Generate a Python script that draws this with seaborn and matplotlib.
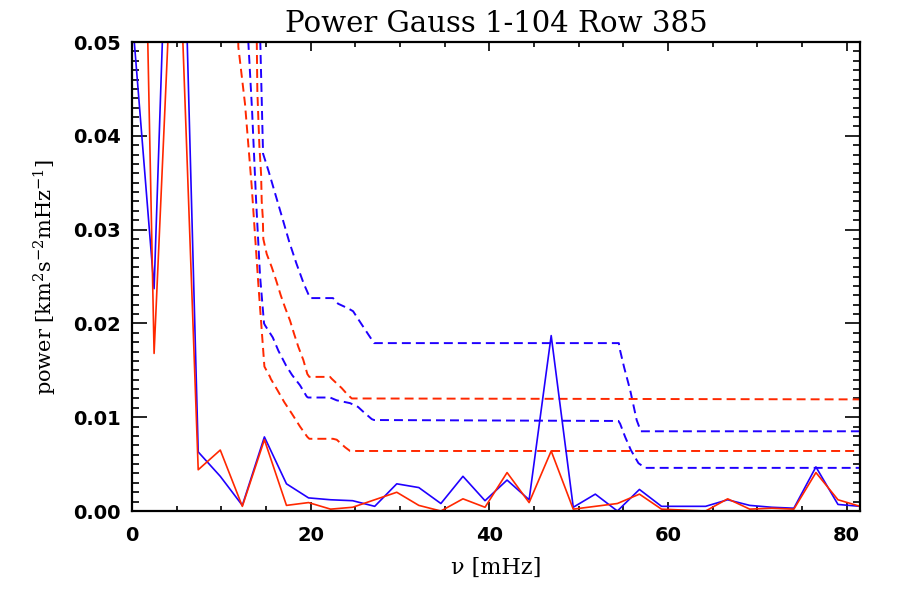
import numpy as np
import pandas as pd
import matplotlib
matplotlib.use("Agg")
import matplotlib.pyplot as plt
import seaborn as sns
from matplotlib.ticker import MultipleLocator, FormatStrFormatter

# Frequenzen der Spektren (mHz)
freq = [0.00, 2.47, 4.94, 7.41, 9.88, 12.35, 14.82, 17.29, 19.76, 22.23,
        24.70, 27.17, 29.64, 32.11, 34.58, 37.05, 39.52, 41.99, 44.46, 46.93,
        49.40, 51.87, 54.34, 56.81, 59.28, 61.75, 64.22, 66.69, 69.16, 71.63,
        74.10, 76.57, 79.04, 81.51]

# Leistung, blau und rot
power_blue = [0.0530, 0.0237, 0.0940, 0.0063, 0.0037, 0.0006, 0.0079, 0.0029, 0.0014, 0.0012,
              0.0011, 0.0005, 0.0029, 0.0025, 0.0008, 0.0037, 0.0011, 0.0033, 0.0012, 0.0187,
              0.0004, 0.0018, 0.0000, 0.0023, 0.0005, 0.0005, 0.0005, 0.0012, 0.0006, 0.0004,
              0.0003, 0.0047, 0.0007, 0.0005]
power_red = [0.1330, 0.0168, 0.0700, 0.0044, 0.0065, 0.0005, 0.0076, 0.0006, 0.0009, 0.0002,
             0.0004, 0.0012, 0.0020, 0.0006, 0.0000, 0.0013, 0.0004, 0.0041, 0.0009, 0.0064,
             0.0002, 0.0005, 0.0008, 0.0018, 0.0002, 0.0001, 0.0000, 0.0013, 0.0002, 0.0003,
             0.0002, 0.0041, 0.0012, 0.0005]

# Konfidenzniveaus (gestrichelt)
conf_blue_hi_f = [14.10, 14.67, 15.30, 16.10, 16.90, 17.60, 18.40, 19.20, 19.93, 22.50,
                  23.07, 24.20, 24.75, 25.50, 26.40, 27.10, 54.50, 54.65, 55.10, 55.77,
                  56.50, 56.97, 81.51]
conf_blue_hi = [0.0600, 0.0381, 0.0362, 0.0336, 0.0310, 0.0287, 0.0264, 0.0243, 0.0227, 0.0227,
                0.0221, 0.0216, 0.0213, 0.0202, 0.0189, 0.0179, 0.0179, 0.0171, 0.0153, 0.0129,
                0.0097, 0.0085, 0.0085]

conf_blue_lo_f = [12.45, 13.02, 13.44, 13.89, 14.33, 14.78, 14.89, 15.76, 16.38, 17.25,
                  17.92, 18.81, 19.56, 19.71, 22.17, 22.92, 24.41, 25.30, 25.87, 26.84,
                  27.10, 54.46, 54.65, 55.21, 55.85, 56.70, 57.45, 81.51]
conf_blue_lo = [0.0600, 0.0500, 0.0427, 0.0331, 0.0251, 0.0200, 0.0198, 0.0185, 0.0171, 0.0155,
                0.0145, 0.0134, 0.0122, 0.0121, 0.0121, 0.0118, 0.0115, 0.0111, 0.0106, 0.0098,
                0.0097, 0.0096, 0.0093, 0.0079, 0.0065, 0.0051, 0.0046, 0.0046]

conf_red_hi_f = [13.85, 14.03, 14.14, 14.26, 14.45, 14.52, 14.64, 14.70, 15.08, 15.64,
                 16.13, 16.65, 17.13, 17.69, 18.14, 18.62, 19.18, 19.63, 19.85, 22.17,
                 22.36, 22.92, 23.48, 24.04, 24.60, 81.51]
conf_red_hi = [0.0600, 0.0448, 0.0419, 0.0389, 0.0359, 0.0330, 0.0313, 0.0290, 0.0274, 0.0260,
               0.0246, 0.0230, 0.0217, 0.0203, 0.0189, 0.0175, 0.0161, 0.0146, 0.0143, 0.0143,
               0.0141, 0.0136, 0.0131, 0.0125, 0.0120, 0.0119]

conf_red_lo_f = [11.80, 11.90, 12.65, 13.40, 14.14, 14.82, 15.45, 15.53, 16.27, 17.05,
                 17.88, 18.81, 19.63, 19.85, 22.50, 22.92, 23.85, 24.41, 81.51]
conf_red_lo = [0.0600, 0.0495, 0.0434, 0.0346, 0.0242, 0.0154, 0.0143, 0.0141, 0.0129, 0.0116,
               0.0104, 0.0090, 0.0079, 0.0077, 0.0077, 0.0076, 0.0068, 0.0064, 0.0064]

BLUE = '#2000ff'
RED = '#ff2800'

sns.set_style("ticks")
plt.rcParams['font.family'] = ['DejaVu Serif']
plt.rcParams['mathtext.fontset'] = 'dejavuserif'

fig = plt.figure(figsize=(9, 6), dpi=100)
ax = fig.add_axes([0.1467, 0.1483, 0.8089, 0.7817])

dash = (0, (4.6, 2.6))
for f, p, c in [(conf_blue_hi_f, conf_blue_hi, BLUE), (conf_red_hi_f, conf_red_hi, RED),
                (conf_blue_lo_f, conf_blue_lo, BLUE), (conf_red_lo_f, conf_red_lo, RED)]:
    d = pd.DataFrame({'f': f, 'p': p})
    sns.lineplot(data=d, x='f', y='p', ax=ax, color=c, lw=1.4, linestyle=dash, sort=False)

spec = pd.DataFrame({'f': freq, 'blue': power_blue, 'red': power_red})
sns.lineplot(data=spec, x='f', y='blue', ax=ax, color=BLUE, lw=1.2, sort=False)
sns.lineplot(data=spec, x='f', y='red', ax=ax, color=RED, lw=1.2, sort=False)

ax.set_xlim(0, 81.51)
ax.set_ylim(0, 0.05)
ax.xaxis.set_major_locator(MultipleLocator(20))
ax.xaxis.set_minor_locator(MultipleLocator(5))
ax.yaxis.set_major_locator(MultipleLocator(0.01))
ax.yaxis.set_minor_locator(MultipleLocator(0.001))
ax.yaxis.set_major_formatter(FormatStrFormatter('%.2f'))
ax.tick_params(which='both', direction='in', top=True, right=True, color='black',
               width=1.2, labelcolor='black', labelsize=14)
ax.tick_params(axis='x', which='major', length=6.7, pad=11)
ax.tick_params(axis='x', which='minor', length=3.4)
ax.tick_params(axis='y', which='major', length=10.8, pad=8)
ax.tick_params(axis='y', which='minor', length=5.2)
for lab in ax.get_xticklabels() + ax.get_yticklabels():
    lab.set_family('DejaVu Sans')
    lab.set_fontweight('bold')
for s in ax.spines.values():
    s.set_linewidth(1.6)
    s.set_color('black')

ax.set_title('Power Gauss 1-104 Row 385', fontsize=21, pad=7, color='black')
ax.set_xlabel('ν [mHz]', fontsize=16, labelpad=8, color='black')
ax.set_ylabel('power [km$^2$s$^{-2}$mHz$^{-1}$]', fontsize=15, labelpad=10, color='black')

fig.savefig('out.png', dpi=100)
